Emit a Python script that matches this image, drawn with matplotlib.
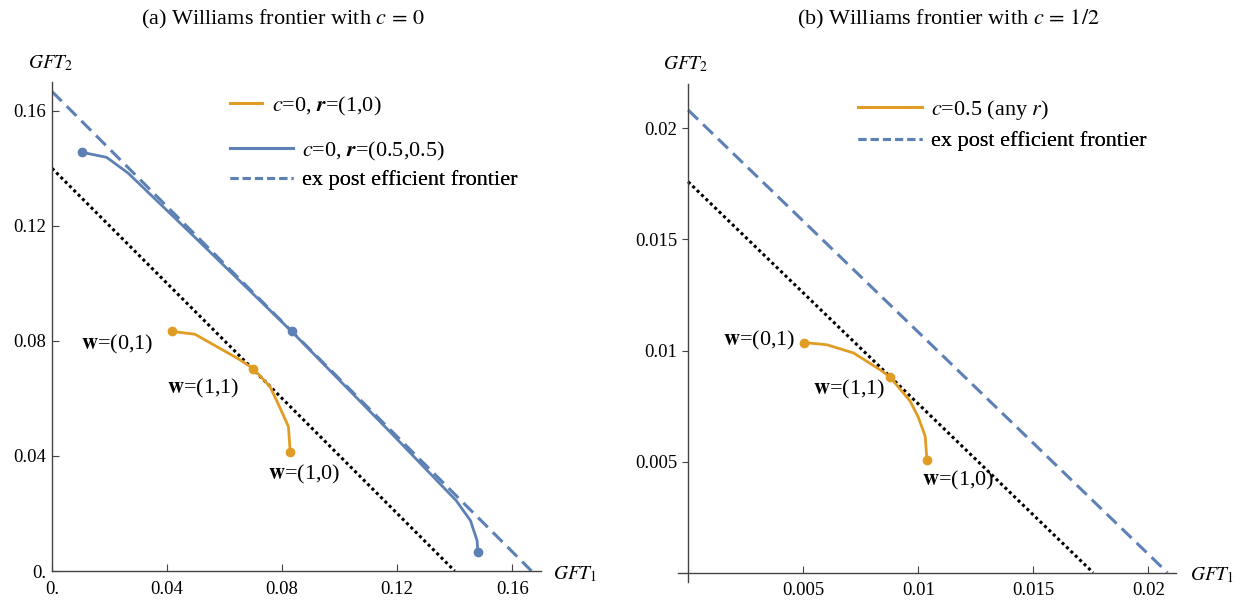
import matplotlib
matplotlib.use('Agg')
import matplotlib.pyplot as plt
from matplotlib.lines import Line2D

plt.rcParams['font.family'] = ['Liberation Serif', 'DejaVu Serif']
plt.rcParams['mathtext.fontset'] = 'stix'

ORANGE = '#E19C24'
BLUE = '#5E81B5'
AXC = '#444444'

# ---------------- Panel (a): c = 0 ----------------
a_frontier_x = [0.0, 0.1667]
a_frontier_y = [0.1667, 0.0]
a_dotted_x = [0.0, 0.140]
a_dotted_y = [0.140, 0.0]
a_blue_x = [0.0103, 0.0190, 0.0265, 0.0500, 0.0833, 0.1170, 0.1405, 0.1455, 0.1478, 0.1480]
a_blue_y = [0.1456, 0.1438, 0.1383, 0.1157, 0.0833, 0.0489, 0.0245, 0.0175, 0.0105, 0.0065]
a_blue_dots = [0, 4, 9]
a_orange_x = [0.0417, 0.0497, 0.0573, 0.0654, 0.0700, 0.0758, 0.0790, 0.0822, 0.0828]
a_orange_y = [0.0833, 0.0823, 0.0780, 0.0734, 0.0703, 0.0641, 0.0573, 0.0502, 0.0414]
a_orange_dots = [0, 4, 8]
a_ticks = [0.0, 0.04, 0.08, 0.12, 0.16]
a_ticklabels = ['0.', '0.04', '0.08', '0.12', '0.16']

# ---------------- Panel (b): c = 1/2 ----------------
b_frontier_x = [0.0, 0.02083]
b_frontier_y = [0.02083, 0.0]
b_dotted_x = [0.0, 0.01760]
b_dotted_y = [0.01760, 0.0]
b_orange_x = [0.00504, 0.00603, 0.00719, 0.00835, 0.00878, 0.00965, 0.01000, 0.01030, 0.01038]
b_orange_y = [0.01036, 0.01026, 0.00989, 0.00913, 0.00880, 0.00772, 0.00700, 0.00615, 0.00505]
b_orange_dots = [0, 4, 8]
b_ticks = [0.005, 0.01, 0.015, 0.02]
b_ticklabels = ['0.005', '0.01', '0.015', '0.02']

W, H = 1247, 605
fig = plt.figure(figsize=(W / 100, H / 100), dpi=100)


def px_rect(x0, x1, y_top, y_bot):
    return [x0 / W, (H - y_bot) / H, (x1 - x0) / W, (y_bot - y_top) / H]


def style_axes(ax, ydir):
    for s in ['top', 'right']:
        ax.spines[s].set_visible(False)
    for s in ['left', 'bottom']:
        ax.spines[s].set_color(AXC)
        ax.spines[s].set_linewidth(1.0)
    ax.tick_params(axis='x', direction='in', length=5, width=0.8, color=AXC,
                   labelsize=13.5, pad=7)
    ax.tick_params(axis='y', direction=ydir, length=5 if ydir == 'in' else 4,
                   width=0.8, color=AXC, labelsize=13.5, pad=4)


FRONT_KW = dict(color=BLUE, lw=2.2, linestyle=(0, (4.5, 2.3)))
DOT_KW = dict(color='black', lw=2.2, linestyle=(0, (1, 1)))
CURVE_KW = dict(lw=2.0, marker='o', ms=6)

# ---- axes (a)
axa = fig.add_axes(px_rect(52, 541, 82, 571))
axa.plot(a_dotted_x, a_dotted_y, **DOT_KW)
axa.plot(a_frontier_x, a_frontier_y, **FRONT_KW)
l_blue, = axa.plot(a_blue_x, a_blue_y, color=BLUE, markevery=a_blue_dots, **CURVE_KW)
l_or_a, = axa.plot(a_orange_x, a_orange_y, color=ORANGE, markevery=a_orange_dots, **CURVE_KW)
axa.set_xlim(0, 0.17)
axa.set_ylim(0, 0.17)
axa.set_xticks(a_ticks, a_ticklabels)
axa.set_yticks(a_ticks, a_ticklabels)
style_axes(axa, 'in')

axa.text(0.0351, 0.0786, r'$\mathbf{w}$=(0,1)', fontsize=16, ha='right', va='center')
axa.text(0.0399, 0.0636, r'$\mathbf{w}$=(1,1)', fontsize=16, ha='left', va='center')
axa.text(0.0751, 0.0337, r'$\mathbf{w}$=(1,0)', fontsize=16, ha='left', va='center')

fig.text(51 / W, 1 - 63 / H, r'$GFT_2$', fontsize=14, ha='center', va='center')
fig.text(553 / W, 1 - 574 / H, r'$GFT_1$', fontsize=14, ha='left', va='center')

# ---- axes (b)
axb = fig.add_axes(px_rect(678, 1176, 84, 582))
axb.plot(b_dotted_x, b_dotted_y, **DOT_KW)
axb.plot(b_frontier_x, b_frontier_y, **FRONT_KW)
l_or_b, = axb.plot(b_orange_x, b_orange_y, color=ORANGE, markevery=b_orange_dots, **CURVE_KW)
axb.set_xlim(-0.00044, 0.0212)
axb.set_ylim(-0.00042, 0.0220)
axb.spines['left'].set_position(('data', 0))
axb.spines['bottom'].set_position(('data', 0))
axb.set_xticks(b_ticks, b_ticklabels)
axb.set_yticks(b_ticks, b_ticklabels)
style_axes(axb, 'out')

axb.text(0.00465, 0.01044, r'$\mathbf{w}$=(0,1)', fontsize=16, ha='right', va='center')
axb.text(0.00543, 0.00823, r'$\mathbf{w}$=(1,1)', fontsize=16, ha='left', va='center')
axb.text(0.01017, 0.00417, r'$\mathbf{w}$=(1,0)', fontsize=16, ha='left', va='center')

fig.text(686 / W, 1 - 64 / H, r'$GFT_2$', fontsize=14, ha='center', va='center')
fig.text(1190 / W, 1 - 575 / H, r'$GFT_1$', fontsize=14, ha='left', va='center')

# ---- titles
fig.text(283 / W, 1 - 19 / H, r'(a) Williams frontier with $c\,=\,0$', fontsize=16,
         ha='center', va='center')
fig.text(948 / W, 1 - 19 / H, r'(b) Williams frontier with $c\,=\,1/2$', fontsize=16,
         ha='center', va='center')

# ---- legends (one entry each, placed by row)
dash_proxy = Line2D([], [], color=BLUE, lw=2.2, linestyle=(0, (2.6, 1.4)))
blue_proxy = Line2D([], [], color=BLUE, lw=2.2)


def row_legend(ax, handle, label, x_px, y_px, hlen, hpad):
    leg = ax.legend([handle], [label], loc='center left',
                    bbox_to_anchor=(x_px / W, 1 - y_px / H), bbox_transform=fig.transFigure,
                    frameon=False, borderpad=0, borderaxespad=0, fontsize=16,
                    handlelength=hlen, handletextpad=hpad)
    ax.add_artist(leg)


or_proxy_a = Line2D([], [], color=ORANGE, lw=2.2)
row_legend(axa, or_proxy_a, r'$c$=0, $\mathbfit{r}$=(1,0)', 230, 106, 1.44, 0.45)
row_legend(axa, blue_proxy, r'$c$=0, $\mathbfit{r}$=(0.5,0.5)', 230, 151, 2.84, 0.40)
row_legend(axa, dash_proxy, 'ex post efficient frontier', 230, 180, 2.84, 0.40)

or_proxy_b = Line2D([], [], color=ORANGE, lw=2.2)
row_legend(axb, or_proxy_b, r'$c$=0.5 (any $r$)', 858, 110, 2.88, 0.40)
row_legend(axb, dash_proxy, 'ex post efficient frontier', 858, 141, 2.88, 0.40)

fig.savefig('out.png', dpi=100)
